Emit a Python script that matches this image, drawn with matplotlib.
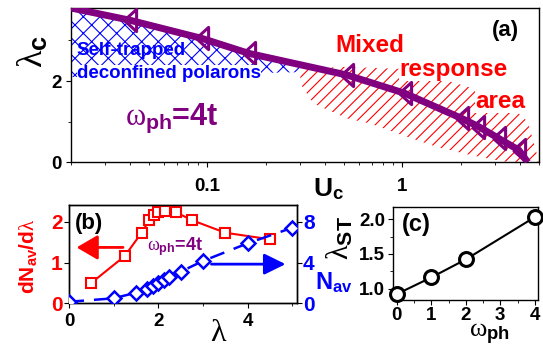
import matplotlib
matplotlib.use("Agg")
import matplotlib.pyplot as plt
from matplotlib.ticker import MultipleLocator, NullFormatter

plt.rcParams.update({
    "font.family": ["Liberation Sans", "DejaVu Sans"],
    "font.weight": "bold",
    "mathtext.fontset": "custom",
    "mathtext.rm": "Liberation Sans:bold",
    "mathtext.bf": "Liberation Sans:bold",
    "mathtext.it": "Liberation Serif:weight=normal",
    "axes.linewidth": 1.0,
    "hatch.linewidth": 0.8,
})

PURPLE = "#800080"

# (a) critical coupling vs U
u_c = [0.02, 0.04, 0.094, 0.164, 0.52, 1.03, 2.02, 2.46, 3.12, 3.96, 4.4]
lam_c = [3.8, 3.5, 3.05, 2.68, 2.15, 1.70, 1.08, 0.88, 0.59, 0.30, 0.0]
# self-trapped region outline
st_u = [0.02, 0.04, 0.094, 0.164, 0.3, 0.3, 0.02]
st_lam = [3.8, 3.5, 3.05, 2.68, 2.4, 2.22, 2.1]
# mixed response region outline
mix_u = [0.3, 0.5, 1.0, 1.6, 2.2, 3.3, 4.4, 4.85, 5.0,
         3.3, 2.23, 1.5, 1.0, 0.68, 0.52, 0.35, 0.3]
mix_lam = [2.3, 2.35, 2.3, 2.05, 1.85, 1.55, 1.0, 0.3, 0.0,
           0.02, 0.18, 0.38, 0.67, 0.96, 1.08, 1.45, 1.94]

# (b) derivative and average phonon number vs lambda
lam_b = [0.5, 1.25, 1.625, 1.8, 1.9, 2.0, 2.15, 2.4, 2.75, 3.5, 4.5]
dn_dlam = [0.5, 1.16, 1.73, 2.04, 2.16, 2.23, 2.26, 2.23, 2.04, 1.73, 1.57]
lam_n = [0, 1, 1.5, 1.75, 1.875, 2.0, 2.125, 2.25, 2.5, 3.0, 4.0, 5.0]
n_av = [0.15, 0.49, 1.04, 1.40, 1.70, 2.02, 2.28, 2.61, 3.10, 4.15, 5.88, 7.41]

# (c) lambda_ST vs omega_ph
omega = [0, 1, 2, 4]
lam_st = [0.92, 1.16, 1.42, 2.03]

fig = plt.figure(figsize=(5.43, 3.51), dpi=100)

# ---------- panel (a)
ax = fig.add_axes([0.1308, 0.5376, 0.861, 0.4396])
ax.fill(st_u, st_lam, facecolor="none", edgecolor="blue", hatch="xx", lw=0, zorder=1)
ax.fill(mix_u, mix_lam, facecolor="none", edgecolor="red", hatch="///", lw=0, zorder=1)
tri = [(-0.55, 0), (0.55, 1), (0.55, -1), (-0.55, 0)]
ax.plot(u_c, lam_c, color=PURPLE, lw=5, solid_capstyle="butt", zorder=3)
ax.plot(u_c[1:-1], lam_c[1:-1], ls="none", marker=tri, ms=16, mfc="none",
        mec=PURPLE, mew=2.2, zorder=4)
ax.set_xscale("log")
ax.set_xlim(0.02, 5.0)
ax.set_ylim(0, 3.8)
ax.set_xticks([0.1, 1], ["0.1", "1"])
ax.xaxis.set_minor_formatter(NullFormatter())
ax.set_yticks([0, 2])
ax.yaxis.set_minor_locator(MultipleLocator(1))
ax.tick_params(which="major", length=3.6, labelsize=13.5)
ax.tick_params(which="minor", length=2.5)
ax.tick_params(axis="x", pad=7.5)
ax.tick_params(axis="y", pad=3)

ax.text(0.0214, 2.75, "Self-trapped", color="blue", fontsize=13.5, va="center", zorder=5)
ax.text(0.0214, 2.19, "deconfined polarons", color="blue", fontsize=13.5, va="center",
        zorder=5, bbox=dict(facecolor="white", edgecolor="none", pad=0))
ax.text(0.455, 2.72, "Mixed", color="red", fontsize=17.5, zorder=5)
ax.text(0.965, 2.13, "response", color="red", fontsize=17.5, zorder=5,
        bbox=dict(facecolor="white", edgecolor="none", pad=0))
ax.text(2.37, 1.33, "area", color="red", fontsize=17.5, zorder=5,
        bbox=dict(facecolor="white", edgecolor="none", pad=0))
ax.text(0.0377, 0.92, r"$\omega_{\mathbf{ph}}$=4t", color=PURPLE, fontsize=22, zorder=5)
ax.text(0.90, 0.922, "(a)", transform=ax.transAxes, fontsize=16, va="top")
ax.text(-0.081, 0.716, r"$\lambda_{\mathbf{c}}$", transform=ax.transAxes, rotation=90,
        fontsize=26, ha="center", va="center")
ax.text(0.517, -0.093, r"U$_{\mathbf{c}}$", transform=ax.transAxes, fontsize=19,
        ha="left", va="top")

# ---------- panel (b)
axb = fig.add_axes([0.1271, 0.1359, 0.4193, 0.28])
axb.plot(lam_b, dn_dlam, color="red", lw=1.5, marker="s", ms=7.5, mfc="white",
         mec="red", mew=1.5, zorder=3)
axb.set_xlim(0, 5.1)
axb.set_ylim(0, 2.41)
axb.set_xticks([0, 2, 4])
axb.xaxis.set_minor_locator(MultipleLocator(1))
axb.set_yticks([0, 1, 2])
axb.tick_params(axis="y", colors="black", labelcolor="red", labelsize=15, pad=1, length=3.5)
axb.tick_params(axis="x", labelsize=13.5, pad=3.5, length=3.5)
axb.tick_params(which="minor", length=2.5)

axn = axb.twinx()
axn.plot(lam_n, n_av, color="blue", lw=1.8, dashes=(6, 4), marker="D", ms=7, mfc="white",
         mec="blue", mew=1.8, zorder=3)
axn.set_ylim(0, 9.64)
axn.set_yticks([0, 4, 8])
axn.tick_params(axis="y", labelcolor="blue", labelsize=15, pad=1, length=3.5)

axb.annotate("", xy=(0.17, 1.37), xytext=(1.21, 1.37),
             arrowprops=dict(arrowstyle="-|>,head_length=0.65,head_width=0.38",
                             mutation_scale=20, lw=2, color="red", shrinkA=0, shrinkB=0))
axb.annotate("", xy=(4.85, 0.96), xytext=(3.19, 0.96),
             arrowprops=dict(arrowstyle="-|>,head_length=0.65,head_width=0.32",
                             mutation_scale=20, lw=2, color="blue", shrinkA=0, shrinkB=0))
axb.text(1.74, 1.31, r"$\omega_{\mathbf{ph}}$=4t", color=PURPLE, fontsize=13, zorder=5)
axb.text(0.026, 0.92, "(b)", transform=axb.transAxes, fontsize=16, va="top")
axb.text(-0.18, 0.48, r"dN$_{\mathbf{av}}$/d$\lambda$", transform=axb.transAxes,
         rotation=90, color="red", fontsize=15, ha="center", va="center")
axb.text(1.08, 0.135, r"N$_{\mathbf{av}}$", transform=axb.transAxes, color="blue",
         fontsize=17, ha="left", va="baseline")
axb.text(0.659, -0.15, r"$\lambda$", transform=axb.transAxes, fontsize=23,
         ha="center", va="top")

# ---------- panel (c)
axc = fig.add_axes([0.7243, 0.1453, 0.267, 0.2658])
axc.plot(omega, lam_st, color="black", lw=1.5, marker="o", ms=10, mfc="white",
         mec="black", mew=2.2, clip_on=False, zorder=3)
axc.set_xlim(-0.1, 4.1)
axc.set_ylim(0.835, 2.18)
axc.set_xticks([0, 1, 2, 3, 4])
axc.xaxis.set_minor_locator(MultipleLocator(0.5))
axc.set_yticks([1.0, 1.5, 2.0])
axc.yaxis.set_minor_locator(MultipleLocator(0.25))
axc.tick_params(which="major", labelsize=13.5, length=3.5)
axc.tick_params(which="minor", length=2.5)
axc.tick_params(axis="x", pad=1.5)
axc.tick_params(axis="y", pad=2.3)
axc.text(0.06, 0.93, "(c)", transform=axc.transAxes, fontsize=17, va="top")
axc.text(-0.368, 0.66, r"$\lambda_{\mathbf{ST}}$", transform=axc.transAxes, rotation=90,
         fontsize=22, ha="center", va="center")
axc.text(0.665, -0.24, r"$\omega_{\mathbf{ph}}$", transform=axc.transAxes, fontsize=19,
         ha="center", va="top")

fig.savefig("out.png", dpi=100)
plt.close(fig)
